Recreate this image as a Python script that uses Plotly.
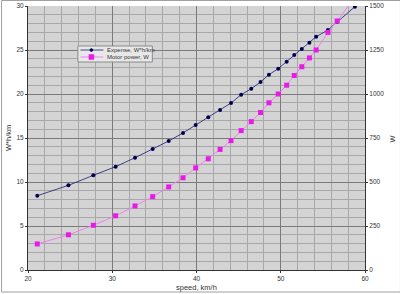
import plotly.graph_objects as go

speed = [21.1, 24.8, 27.75, 30.4, 32.7, 34.8, 36.7, 38.4, 39.9, 41.4, 42.8, 44.1,
         45.3, 46.5, 47.6, 48.6, 49.7, 50.7, 51.6, 52.5, 53.4, 54.2, 55.6, 56.7, 58.8]
expense_whkm = [8.44, 9.62, 10.76, 11.74, 12.76, 13.75, 14.66, 15.57, 16.48, 17.35, 18.18, 18.98,
                19.92, 20.6, 21.36, 22.2, 22.88, 23.67, 24.43, 25.11, 25.83, 26.51, 27.27, 28.2, 29.92]
motor_power_w = [148, 200, 254, 308, 364, 417, 472, 524, 580, 632, 685, 735,
                 792, 843, 895, 950, 1000, 1050, 1105, 1155, 1205, 1250, 1350, 1415, 1550]
series_names = ["Expense, W*h/km", "Motor power, W"]

FONT = "Liberation Sans"
NAVY_LINE, NAVY_MK = "#1a1a6e", "#000050"
PINK_LINE, PINK_MK = "#f080f0", "#e81ae8"

fig = go.Figure()
fig.add_trace(go.Scatter(
    x=speed, y=expense_whkm, name=series_names[0], mode="lines+markers",
    line=dict(color=NAVY_LINE, width=0.8),
    marker=dict(symbol="circle", size=4, color=NAVY_MK),
))
fig.add_trace(go.Scatter(
    x=speed, y=motor_power_w, name=series_names[1], mode="lines+markers", yaxis="y2",
    line=dict(color=PINK_LINE, width=1),
    marker=dict(symbol="square", size=5, color=PINK_MK),
))

L, R, T, B = 27.5, 35, 6, 24
pw, ph = 400 - L - R, 294 - T - B


def px(x):
    return (x - L) / pw


def py(y):
    return (294 - B - y) / ph


shapes = [
    # outer figure border
    dict(type="rect", xref="paper", yref="paper", x0=px(1), x1=px(400.5), y0=py(292), y1=py(0.5),
         line=dict(color="#a0a0a0", width=1), layer="below"),
    # legend box
    dict(type="rect", xref="paper", yref="paper", x0=px(77.5), x1=px(152), y0=py(62), y1=py(46),
         line=dict(color="#8a8a8a", width=1), fillcolor="#e8e8e8", opacity=1, layer="above"),
    # legend row 1
    dict(type="line", xref="paper", yref="paper", x0=px(80), x1=px(103), y0=py(50), y1=py(50),
         line=dict(color=NAVY_LINE, width=0.8), layer="above"),
    dict(type="circle", xref="paper", yref="paper", x0=px(89.5), x1=px(92.5), y0=py(51.5), y1=py(48.5),
         line=dict(color=NAVY_MK, width=0.5), fillcolor=NAVY_MK, layer="above"),
    # legend row 2
    dict(type="line", xref="paper", yref="paper", x0=px(80), x1=px(103), y0=py(57), y1=py(57),
         line=dict(color=PINK_LINE, width=1), layer="above"),
    dict(type="rect", xref="paper", yref="paper", x0=px(88.5), x1=px(93.5), y0=py(59.5), y1=py(54.5),
         line=dict(color=PINK_MK, width=0.5), fillcolor=PINK_MK, layer="above"),
]

annotations = [
    dict(text=series_names[0], xref="paper", yref="paper", x=px(104.5), y=py(50),
         xanchor="left", yanchor="middle", showarrow=False, font=dict(size=6, color="#333")),
    dict(text=series_names[1], xref="paper", yref="paper", x=px(104.5), y=py(57),
         xanchor="left", yanchor="middle", showarrow=False, font=dict(size=6, color="#333")),
    dict(text="speed, km/h", xref="paper", yref="paper", x=px(196), y=py(287),
         xanchor="center", yanchor="middle", showarrow=False, font=dict(size=7.5, color="#333")),
    dict(text="W*h/km", xref="paper", yref="paper", x=px(7.5), y=py(138), textangle=-90,
         xanchor="center", yanchor="middle", showarrow=False, font=dict(size=7.5, color="#333")),
    dict(text="W", xref="paper", yref="paper", x=px(392.5), y=py(138), textangle=-90,
         xanchor="center", yanchor="middle", showarrow=False, font=dict(size=7.5, color="#333")),
]

axis_common = dict(showline=True, linecolor="#333", linewidth=1, ticks="outside", ticklen=2,
                   tickcolor="#333", zeroline=False, automargin=False,
                   tickfont=dict(family=FONT, size=6.5, color="#333"))

fig.update_layout(
    width=400, height=294,
    margin=dict(l=L, r=R, t=T, b=B, pad=0),
    paper_bgcolor="white", plot_bgcolor="#d4d4d4",
    font=dict(family=FONT, size=7, color="#333"),
    showlegend=False,
    xaxis=dict(range=[20, 60], dtick=10, showgrid=True, gridcolor="#7a7a7a", gridwidth=1,
               minor=dict(dtick=2, showgrid=True, gridcolor="#a8a8a8", gridwidth=1),
               **axis_common),
    yaxis=dict(range=[0, 30], dtick=5, showgrid=True, gridcolor="#7a7a7a", gridwidth=1,
               minor=dict(dtick=1, showgrid=True, gridcolor="#a8a8a8", gridwidth=1),
               **axis_common),
    yaxis2=dict(range=[0, 1500], dtick=250, overlaying="y", side="right", showgrid=False,
                **axis_common),
    shapes=shapes,
    annotations=annotations,
)

fig.write_html("out.html")
